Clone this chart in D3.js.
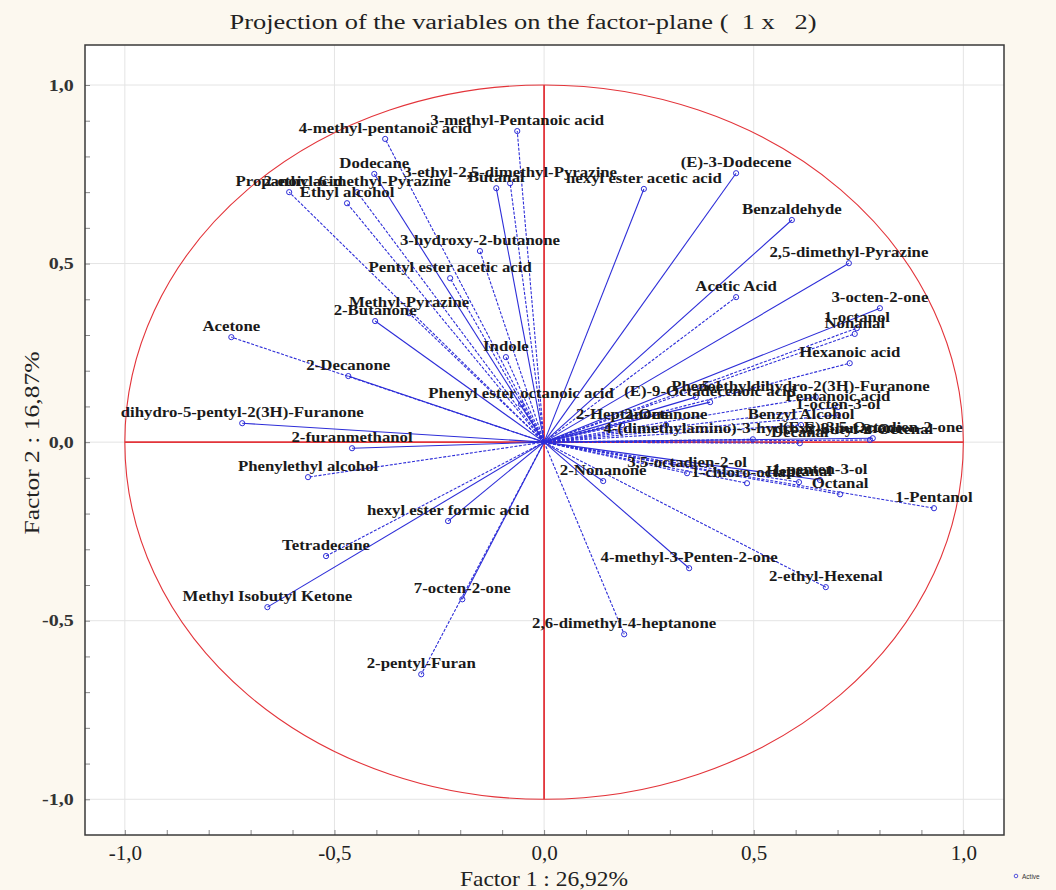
<!DOCTYPE html>
<html>
<head>
<meta charset="utf-8">
<script src="https://cdn.jsdelivr.net/npm/d3@7"></script>
<style>
  body { margin: 0; background: #fcf8ef; }
  svg { display: block; }
</style>
</head>
<body>
<svg id="chart" width="1056" height="890"></svg>
<script>
// variable names and their loadings on factor 1 / factor 2
const names = [
  "Acetone", "2-Decanone", "dihydro-5-pentyl-2(3H)-Furanone", "2-furanmethanol",
  "Phenylethyl alcohol", "2-Butanone", "Methyl-Pyrazine", "Indole",
  "Phenyl ester octanoic acid", "Pentyl ester acetic acid", "3-hydroxy-2-butanone", "Butanal",
  "3-methyl-Pentanoic acid", "4-methyl-pentanoic acid", "Dodecane", "3-ethyl-2,5-dimethyl-Pyrazine",
  "2-ethyl-6-methyl-Pyrazine", "Propanoic acid", "Ethyl alcohol", "Tetradecane",
  "Methyl Isobutyl Ketone", "hexyl ester formic acid", "7-octen-2-one", "2-pentyl-Furan",
  "2,6-dimethyl-4-heptanone", "4-methyl-3-Penten-2-one", "2-ethyl-Hexenal", "1-Pentanol",
  "Octanal", "1-penten-3-ol", "Heptanal", "1-chloro-octane",
  "3,5-octadien-2-ol", "2-Nonanone", "hexyl ester acetic acid", "(E)-3-Dodecene",
  "Benzaldehyde", "2,5-dimethyl-Pyrazine", "Acetic Acid", "3-octen-2-one",
  "1-octanol", "Nonanal", "Hexanoic acid", "5-ethyldihydro-2(3H)-Furanone",
  "Pentanoic acid", "1-octen-3-ol", "Benzyl Alcohol", "Phenol",
  "(E)-9-Octadecenoic acid", "2-Heptanone", "2-Octanone", "4-(dimethylamino)-3-hydroxy-2-butanone",
  "(E,E)-3,5-Octadien-2-one", "2-butyl-2-Octenal", "Decanal"
];
const factor1 = [
  -0.746, -0.467, -0.720, -0.458,
  -0.563, -0.403, -0.322, -0.091,
  -0.055, -0.224, -0.153, -0.114,
  -0.064, -0.379, -0.405, -0.081,
  -0.446, -0.608, -0.470, -0.520,
  -0.660, -0.229, -0.195, -0.293,
  0.191, 0.346, 0.672, 0.930,
  0.706, 0.658, 0.608, 0.484,
  0.341, 0.141, 0.238, 0.458,
  0.591, 0.727, 0.458, 0.801,
  0.746, 0.741, 0.729, 0.648,
  0.701, 0.701, 0.613, 0.362,
  0.396, 0.186, 0.291, 0.498,
  0.784, 0.777, 0.610
];
const factor2 = [
  0.294, 0.185, 0.053, -0.017,
  -0.098, 0.339, 0.361, 0.238,
  0.106, 0.459, 0.535, 0.711,
  0.871, 0.849, 0.751, 0.725,
  0.700, 0.700, 0.669, -0.319,
  -0.462, -0.221, -0.440, -0.650,
  -0.538, -0.353, -0.406, -0.185,
  -0.146, -0.106, -0.112, -0.115,
  -0.087, -0.109, 0.709, 0.753,
  0.622, 0.501, 0.406, 0.375,
  0.319, 0.303, 0.221, 0.126,
  0.098, 0.076, 0.048, 0.126,
  0.112, 0.048, 0.048, 0.008,
  0.011, 0.006, -0.003
];
// 1 = dashed vector, 0 = solid
const dashed = [
  1, 0, 0, 0,
  1, 0, 1, 1,
  1, 1, 1, 0,
  1, 1, 0, 1,
  1, 1, 1, 1,
  0, 0, 0, 1,
  1, 0, 1, 1,
  1, 0, 1, 1,
  1, 0, 0, 0,
  0, 0, 1, 0,
  1, 1, 1, 1,
  1, 1, 1, 0,
  0, 1, 1, 1,
  0, 1, 1
];
const xTicks = [-1, -0.5, 0, 0.5, 1];
const yTicks = [-1, -0.5, 0, 0.5, 1];

const data = names.map((n, i) => ({name: n, x: factor1[i], y: factor2[i], dash: dashed[i]}));

const svg = d3.select("#chart");
const pL = 85, pR = 1004, pT = 45, pB = 835;
const blue = "#2d2dd8", red = "#e3343a";
const serif = "'Liberation Serif', 'Times New Roman', serif";

const x = d3.scaleLinear().domain([-1.095, 1.097]).range([pL, pR]);
const y = d3.scaleLinear().domain([-1.10, 1.112]).range([pB, pT]);

// plot background
svg.append("rect").attr("x", pL).attr("y", pT)
  .attr("width", pR - pL).attr("height", pB - pT).attr("fill", "#fff");

// grid
svg.append("g").selectAll("line").data(xTicks).join("line")
  .attr("x1", d => x(d)).attr("x2", d => x(d)).attr("y1", pT).attr("y2", pB)
  .attr("stroke", "#e4e4e4");
svg.append("g").selectAll("line").data(yTicks).join("line")
  .attr("y1", d => y(d)).attr("y2", d => y(d)).attr("x1", pL).attr("x2", pR)
  .attr("stroke", "#e4e4e4");

// unit circle and red axes
svg.append("ellipse")
  .attr("cx", x(0)).attr("cy", y(0))
  .attr("rx", x(1) - x(0)).attr("ry", y(0) - y(1))
  .attr("fill", "none").attr("stroke", red).attr("stroke-width", 1.1);
svg.append("line").attr("x1", x(-1)).attr("x2", x(1)).attr("y1", y(0)).attr("y2", y(0))
  .attr("stroke", red).attr("stroke-width", 1.8);
svg.append("line").attr("x1", x(0)).attr("x2", x(0)).attr("y1", y(1)).attr("y2", y(-1))
  .attr("stroke", red).attr("stroke-width", 1.8);

// vectors
svg.append("g").selectAll("line").data(data).join("line")
  .attr("x1", x(0)).attr("y1", y(0))
  .attr("x2", d => x(d.x)).attr("y2", d => y(d.y))
  .attr("stroke", blue).attr("stroke-width", 1.1)
  .attr("stroke-dasharray", d => d.dash ? "3,1.5" : null);

svg.append("g").selectAll("circle").data(data).join("circle")
  .attr("cx", d => x(d.x)).attr("cy", d => y(d.y)).attr("r", 2.6)
  .attr("fill", "none").attr("stroke", blue).attr("stroke-width", 1);

// labels
svg.append("g").selectAll("text").data(data).join("text")
  .attr("transform", d => `translate(${x(d.x)},${y(d.y) - 6}) scale(1.12,1)`)
  .attr("text-anchor", "middle")
  .attr("font-family", serif).attr("font-weight", "bold").attr("font-size", 15)
  .attr("fill", "#1a1a1a")
  .text(d => d.name);

// axes (ticks every 0.1 pointing inward, labels at 0.5)
const fmt = d => xTicks.some(t => Math.abs(t - d) < 1e-9) ? d3.format(".1f")(d).replace(".", ",").replace("−", "-") : "";
const xAxis = d3.axisBottom(x).tickValues(d3.range(-10, 11).map(d => d / 10))
  .tickSize(-5).tickFormat(fmt);
const gx = svg.append("g").attr("transform", `translate(0,${pB})`).call(xAxis);
gx.select(".domain").remove();
gx.selectAll("line").attr("stroke", "#888");
gx.selectAll("text").attr("font-family", serif).attr("font-size", 21).attr("fill", "#222").attr("dy", "1.05em");

const yAxis = d3.axisLeft(y).tickValues(d3.range(-10, 11).map(d => d / 10))
  .tickSize(-5).tickFormat(fmt);
const gy = svg.append("g").attr("transform", `translate(${pL},0)`).call(yAxis);
gy.select(".domain").remove();
gy.selectAll("line").attr("stroke", "#888");
gy.selectAll("text").attr("font-family", serif).attr("font-weight", "bold").attr("font-size", 16)
  .attr("fill", "#333").attr("x", -9).attr("transform", "scale(1.25,1)");

// frame
svg.append("rect").attr("x", pL).attr("y", pT)
  .attr("width", pR - pL).attr("height", pB - pT)
  .attr("fill", "none").attr("stroke", "#3a3a3a").attr("stroke-width", 1.5);

// titles
svg.append("text").attr("x", 523).attr("y", 29).attr("text-anchor", "middle")
  .attr("font-family", serif).attr("font-size", 20).attr("fill", "#222")
  .attr("textLength", 587).attr("lengthAdjust", "spacingAndGlyphs")
  .style("white-space", "pre")
  .text("Projection of the variables on the factor-plane (  1 x   2)");

svg.append("text").attr("x", 544).attr("y", 886).attr("text-anchor", "middle")
  .attr("font-family", serif).attr("font-size", 22).attr("fill", "#222")
  .attr("textLength", 168).attr("lengthAdjust", "spacingAndGlyphs")
  .text("Factor 1 : 26,92%");

svg.append("text").attr("transform", "translate(39,443) rotate(-90)").attr("text-anchor", "middle")
  .attr("font-family", serif).attr("font-size", 22).attr("fill", "#222")
  .attr("textLength", 183).attr("lengthAdjust", "spacingAndGlyphs")
  .text("Factor 2 : 16,87%");

// legend
svg.append("circle").attr("cx", 1016).attr("cy", 876).attr("r", 1.8)
  .attr("fill", "none").attr("stroke", blue).attr("stroke-width", 0.8);
svg.append("text").attr("x", 1022).attr("y", 878.5)
  .attr("font-family", "'Liberation Sans', Arial, sans-serif").attr("font-size", 6.5).attr("fill", "#333")
  .text("Active");
</script>
</body>
</html>
